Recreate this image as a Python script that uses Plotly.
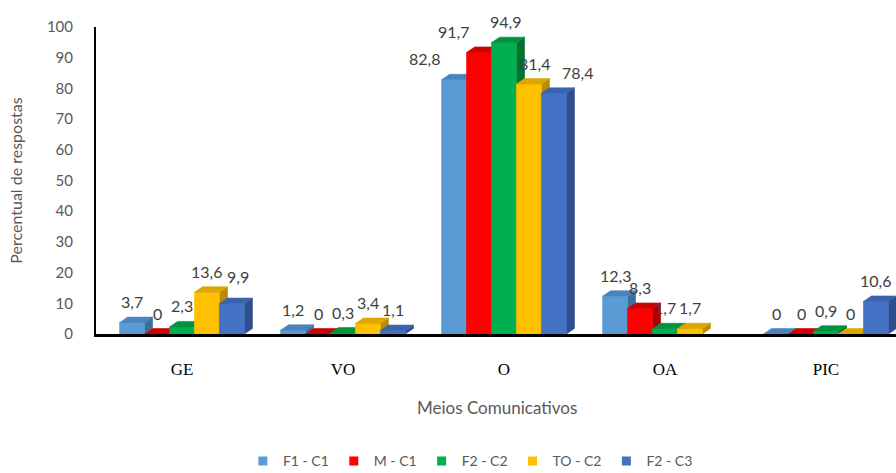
import plotly.graph_objects as go

# Communication means (categories) and response percentages per group
categories = ["GE", "VO", "O", "OA", "PIC"]
series_names = ["F1 - C1", "M - C1", "F2 - C2", "TO - C2", "F2 - C3"]
f1_c1 = [3.7, 1.2, 82.8, 12.3, 0]
m_c1 = [0, 0, 91.7, 8.3, 0]
f2_c2 = [2.3, 0.3, 94.9, 1.7, 0.9]
to_c2 = [13.6, 3.4, 81.4, 1.7, 0]
f2_c3 = [9.9, 1.1, 78.4, None, 10.6]
series_values = [f1_c1, m_c1, f2_c2, to_c2, f2_c3]

# front, top and side face colours for the pseudo-3D columns
front_colors = ["#5B9BD5", "#FF0000", "#00B050", "#FFC000", "#4472C4"]
top_colors = ["#4A84BC", "#D00000", "#00933F", "#DDA600", "#3A63AE"]
side_colors = ["#3E6E9C", "#A80000", "#00722F", "#B98B00", "#2D4E8C"]

BAR_W = 0.155      # column width in category units
DEPTH_X = 0.05     # depth offset along x (category units)
DEPTH_Y = 1.8      # depth offset along y (percentage units)

# pixel nudges for labels that would otherwise collide: (series, category) -> (dx, dy)
label_nudge = {(0, 2): (-30, 0), (1, 2): (-26, 0), (2, 2): (2, 0),
               (3, 2): (6, 0), (4, 2): (24, 0), (4, 0): (6, 6)}

fig = go.Figure()


def polys(rects):
    xs, ys = [], []
    for pts in rects:
        for px, py in pts:
            xs.append(px)
            ys.append(py)
        xs.append(pts[0][0])
        ys.append(pts[0][1])
        xs.append(None)
        ys.append(None)
    return xs, ys


def bar_left(j, k, n):
    return j + (k - n / 2) * BAR_W


n = len(series_values)
annotations = []
for k, (name, vals) in enumerate(zip(series_names, series_values)):
    front, top, side = [], [], []
    for j, v in enumerate(vals):
        if v is None:
            continue
        x0 = bar_left(j, k, n)
        x1 = x0 + BAR_W
        front.append([(x0, 0), (x1, 0), (x1, v), (x0, v)])
        top.append([(x0, v), (x1, v), (x1 + DEPTH_X, v + DEPTH_Y), (x0 + DEPTH_X, v + DEPTH_Y)])
        side.append([(x1, 0), (x1 + DEPTH_X, DEPTH_Y), (x1 + DEPTH_X, v + DEPTH_Y), (x1, v)])
        dx, dy = label_nudge.get((k, j), (0, 0))
        annotations.append(dict(
            x=x0 + BAR_W / 2, y=v, xref="x", yref="y",
            text=f"{v:g}".replace(".", ","), showarrow=False,
            xanchor="center", yanchor="middle", xshift=dx, yshift=21 + dy,
            font=dict(family="Lato", size=16, color="#404040"),
        ))
    for faces, col in ((side, side_colors[k]), (front, front_colors[k]), (top, top_colors[k])):
        xs, ys = polys(faces)
        fig.add_trace(go.Scatter(
            x=xs, y=ys, mode="lines", fill="toself", fillcolor=col,
            line=dict(width=0.6, color=col), showlegend=False, hoverinfo="skip",
        ))
    # legend entry
    fig.add_trace(go.Scatter(
        x=[None], y=[None], mode="markers", name=name,
        marker=dict(symbol="square", size=9, color=front_colors[k]),
    ))

annotations.append(dict(
    text="Meios Comunicativos", xref="paper", yref="paper",
    x=0.5013, y=-0.241, xanchor="center", yanchor="middle", showarrow=False,
    font=dict(family="Lato", size=17, color="#595959"),
))

fig.update_layout(
    width=896, height=473,
    margin=dict(l=96, r=0, t=27, b=139, autoexpand=False),
    paper_bgcolor="white", plot_bgcolor="white",
    showlegend=True,
    legend=dict(
        orientation="h", x=0.468, xanchor="center", y=-0.415, yanchor="middle",
        font=dict(family="Lato", size=14, color="#595959"),
        itemwidth=30, tracegroupgap=0,
    ),
    annotations=annotations,
)

fig.update_xaxes(
    range=[-0.534, 4.435],
    tickmode="array", tickvals=list(range(len(categories))), ticktext=categories,
    tickfont=dict(family="Liberation Serif", size=17, color="black"),
    showline=True, linecolor="black", linewidth=2.5,
    showgrid=False, zeroline=False, ticks="", ticklabelstandoff=18,
)
fig.update_yaxes(
    range=[0, 100], dtick=10,
    tickfont=dict(family="Lato", size=15, color="#595959"),
    showline=True, linecolor="black", linewidth=2,
    showgrid=False, zeroline=False, ticks="", ticklabelstandoff=18,
    title=dict(text="Percentual de respostas",
               font=dict(family="Lato", size=16, color="#595959"), standoff=20),
)

fig.write_html("out.html")
